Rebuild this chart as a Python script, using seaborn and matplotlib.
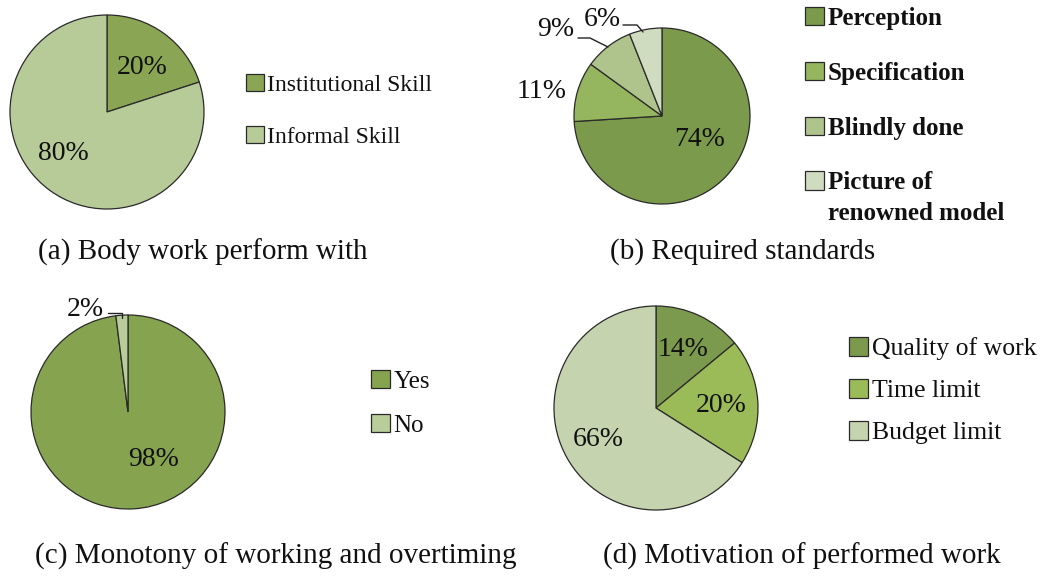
import numpy as np
import matplotlib
matplotlib.use("Agg")
import matplotlib.pyplot as plt
import seaborn as sns

sns.set_theme(style="white")
plt.rcParams['font.family'] = ['Liberation Serif', 'DejaVu Serif']

# data
a_labels = ["Institutional Skill", "Informal Skill"]
a_values = [20, 80]
b_labels = ["Perception", "Specification", "Blindly done", "Picture of\nrenowned model"]
b_values = [74, 11, 9, 6]
c_labels = ["Yes", "No"]
c_values = [98, 2]
d_labels = ["Quality of work", "Time limit", "Budget limit"]
d_values = [14, 20, 66]

a_colors = ["#8aa655", "#b6cb98"]
b_colors = ["#7b9a4c", "#95b55e", "#afc48c", "#d0dcc0"]
c_colors = ["#86a34f", "#b8cd9a"]
d_colors = ["#7c9a4d", "#9bbb59", "#c5d4ae"]

W, H = 1044, 576
fig = plt.figure(figsize=(W / 100, H / 100), dpi=100)
fig.patch.set_facecolor("white")


def pie_axes(cx, cy, r):
    ax = fig.add_axes([(cx - r) / W, 1 - (cy + r) / H, 2 * r / W, 2 * r / H])
    ax.set_axis_off()
    return ax


def px2data(cx, cy, r, x, y):
    return (x - cx) / r, -(y - cy) / r


def draw(cx, cy, r, values, colors, labels, label_pos, leg_xy, leg_font, leg_space,
         leg_weight="normal", leaders=None):
    ax = pie_axes(cx, cy, r)
    wedges, _ = ax.pie(values, colors=colors, startangle=90, counterclock=False,
                       radius=1, wedgeprops=dict(edgecolor="#2a2a2a", linewidth=0.9))
    for w in wedges:
        w.set_clip_on(False)
    ax.set_xlim(-1, 1)
    ax.set_ylim(-1, 1)
    for v, (x, y) in zip(values, label_pos):
        dx, dy = px2data(cx, cy, r, x, y)
        ax.text(dx, dy, f"{v}%", ha="center", va="center", fontsize=20, color="#111111")
    if leaders:
        for pts in leaders:
            xs, ys = zip(*[px2data(cx, cy, r, x, y) for x, y in pts])
            ax.plot(xs, ys, color="#222222", lw=1.0, clip_on=False)
    leg = fig.legend(wedges, labels, loc="upper left",
                     bbox_to_anchor=(leg_xy[0] / W, 1 - leg_xy[1] / H),
                     frameon=False, handlelength=0.75, handleheight=0.75,
                     handletextpad=0.15, labelspacing=leg_space, borderaxespad=0, borderpad=0,
                     prop=dict(size=leg_font, weight=leg_weight))
    for t in leg.get_texts():
        t.set_color("#111111")
        t.set_linespacing(1.45)
    # square next to the first line of a two-line label
    for col in leg._legend_handle_box.get_children():
        for row, lab in zip(col.get_children(), labels):
            if "\n" in lab:
                row.align = "top"
    return ax


# (a)
draw(107, 112, 97, a_values, a_colors, a_labels,
     [(142, 68), (63, 153)], (246, 74), 17, 1.27)
# (b)
draw(662, 116, 88, b_values, b_colors, b_labels,
     [(700, 140), (542, 92), (556, 30), (602, 20)], (805, 7), 18, 1.27, "bold",
     leaders=[[(578, 38), (590, 38), (608, 47)], [(623, 25), (637, 25), (643, 32)]])
# (c)
draw(128, 412, 97, c_values, c_colors, c_labels,
     [(154, 459), (85, 309)], (371, 370), 18, 0.83,
     leaders=[[(108, 313), (122, 313), (122, 318)]])
# (d)
draw(656, 408, 102, d_values, d_colors, d_labels,
     [(683, 350), (721, 405), (598, 440)], (849, 337), 18.5, 0.72)

caption_kw = dict(fontsize=21, color="#111111", ha="left", va="center")
fig.text(38 / W, 1 - 252 / H, "(a) Body work perform with", **caption_kw)
fig.text(610 / W, 1 - 252 / H, "(b) Required standards", **caption_kw)
fig.text(35 / W, 1 - 556 / H, "(c) Monotony of working and overtiming", **caption_kw)
fig.text(603 / W, 1 - 556 / H, "(d) Motivation of performed work", **caption_kw)

fig.savefig("out.png", dpi=100, facecolor="white")
